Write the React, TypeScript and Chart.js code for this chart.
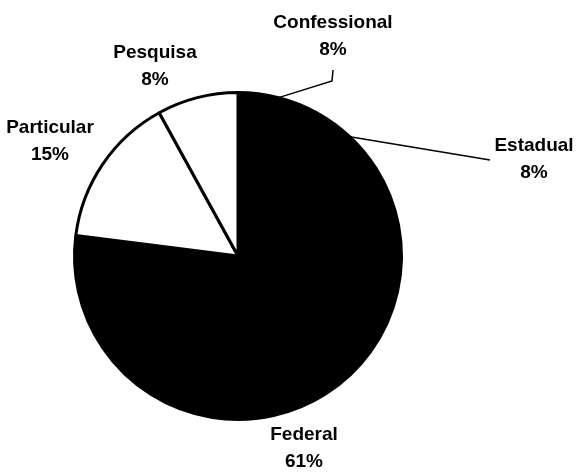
import React, { useEffect, useRef } from "react";
import { Chart, registerables } from "chart.js";

Chart.register(...registerables);

const categories = ["Confessional", "Estadual", "Federal", "Particular", "Pesquisa"];
const percents = [8, 8, 61, 15, 8];

// layout only (label centers relative to pie centre, leader line bends)
const CX = 238;
const CY = 256;
const labelLayout = [
  { dx: 333 - CX, dy: 23 - CY, line: [[332 - CX, 81 - CY], [333 - CX, 70 - CY]] },
  { dx: 534 - CX, dy: 146 - CY, line: [[490 - CX, 160 - CY]] },
  { dx: 304 - CX, dy: 435 - CY, line: null },
  { dx: 50 - CX, dy: 128 - CY, line: null },
  { dx: 155 - CX, dy: 53 - CY, line: null },
];
const fills = ["#000000", "#000000", "#000000", "#ffffff", "#ffffff"];

const labelPlugin = {
  id: "pieLabels",
  afterDraw(chart: any) {
    const ctx = chart.ctx;
    const meta = chart.getDatasetMeta(0);
    ctx.save();
    ctx.fillStyle = "#000";
    ctx.strokeStyle = "#000";
    ctx.lineWidth = 1.5;
    ctx.font = "bold 19px 'Liberation Sans', Arial, sans-serif";
    ctx.textAlign = "center";
    ctx.textBaseline = "middle";
    meta.data.forEach((arc: any, i: number) => {
      const L = labelLayout[i];
      const cx = arc.x;
      const cy = arc.y;
      if (L.line) {
        const mid = (arc.startAngle + arc.endAngle) / 2;
        const r = arc.outerRadius;
        ctx.beginPath();
        ctx.moveTo(cx + r * Math.cos(mid), cy + r * Math.sin(mid));
        L.line.forEach((p) => ctx.lineTo(cx + p[0], cy + p[1]));
        ctx.stroke();
      }
      ctx.fillText(categories[i], cx + L.dx, cy + L.dy);
      ctx.fillText(percents[i] + "%", cx + L.dx, cy + L.dy + 27);
    });
    ctx.restore();
  },
};

export default function App() {
  const ref = useRef<HTMLCanvasElement>(null);
  useEffect(() => {
    if (!ref.current) return;
    const chart = new Chart(ref.current, {
      type: "pie",
      data: {
        labels: categories,
        datasets: [
          {
            data: percents,
            backgroundColor: fills,
            borderColor: "#000000",
            borderWidth: 3,
          },
        ],
      },
      options: {
        animation: false,
        responsive: false,
        maintainAspectRatio: false,
        layout: { padding: { left: 73, right: 576 - 403, top: 91, bottom: 474 - 421 } },
        plugins: { legend: { display: false }, tooltip: { enabled: false } },
      },
      plugins: [labelPlugin],
    });
    return () => chart.destroy();
  }, []);
  return (
    <div style={{ position: "fixed", left: 0, top: 0, width: 576, height: 474, background: "#fff" }}>
      <canvas ref={ref} width={576} height={474} style={{ width: 576, height: 474 }} />
    </div>
  );
}
